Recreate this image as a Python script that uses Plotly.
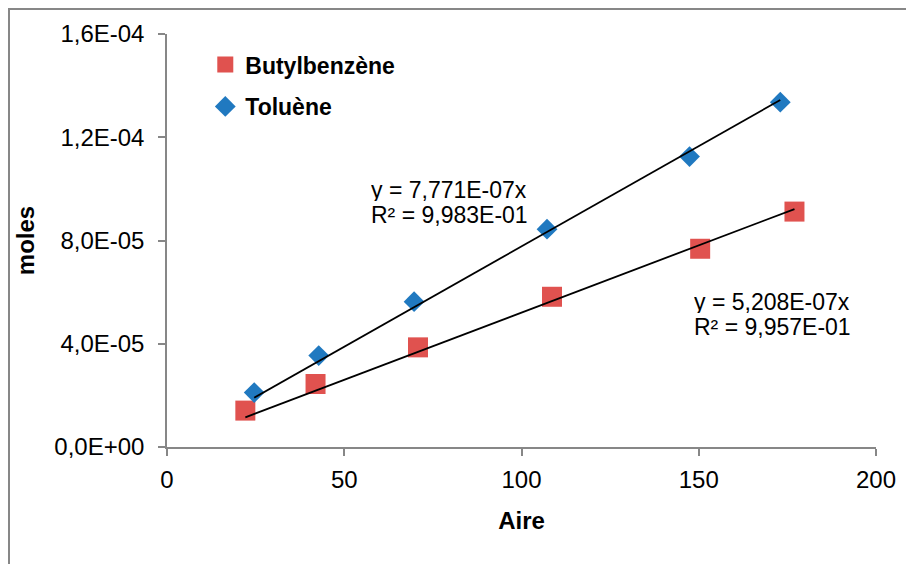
import plotly.graph_objects as go

# ---- data ----
butyl_x = [22.1, 41.9, 70.8, 108.6, 150.4, 177.0]
butyl_y = [1.41e-5, 2.44e-5, 3.86e-5, 5.82e-5, 7.68e-5, 9.12e-5]
toluene_x = [24.6, 42.8, 69.7, 107.2, 147.4, 173.0]
toluene_y = [2.11e-5, 3.54e-5, 5.63e-5, 8.44e-5, 1.125e-4, 1.336e-4]

butyl_slope = 5.208e-07
toluene_slope = 7.771e-07

x_tickvals = [0, 50, 100, 150, 200]
x_ticktext = ["0", "50", "100", "150", "200"]
y_tickvals = [0, 4e-5, 8e-5, 1.2e-4, 1.6e-4]
y_ticktext = ["0,0E+00", "4,0E-05", "8,0E-05", "1,2E-04", "1,6E-04"]

eq_toluene = ["y = 7,771E-07x", "R² = 9,983E-01"]
eq_butyl = ["y = 5,208E-07x", "R² = 9,957E-01"]

FONT = "Liberation Sans, Arial, sans-serif"
RED = "#E0524F"
BLUE = "#2079C0"
GREY = "#878787"

W, H = 898, 556
L, R, T, B = 159, 30, 26, 117

fig = go.Figure()

fig.add_trace(go.Scatter(
    x=butyl_x, y=butyl_y, mode="markers", name="Butylbenzène",
    legendgroup="b",
    marker=dict(symbol="square", size=20, color=RED, line=dict(width=0)),
))
fig.add_trace(go.Scatter(
    x=toluene_x, y=toluene_y, mode="markers", name="Toluène",
    legendgroup="t",
    marker=dict(symbol="diamond", size=16, color=BLUE, line=dict(width=0)),
))

# trendlines (through origin), drawn between first and last x of each series
bx = [min(butyl_x), max(butyl_x)]
tx = [min(toluene_x), max(toluene_x)]
fig.add_trace(go.Scatter(
    x=bx, y=[butyl_slope * v for v in bx], mode="lines", showlegend=False,
    line=dict(color="black", width=1.8), hoverinfo="skip",
))
fig.add_trace(go.Scatter(
    x=tx, y=[toluene_slope * v for v in tx], mode="lines", showlegend=False,
    line=dict(color="black", width=1.8), hoverinfo="skip",
))

annos = []
for txt, yy in zip(eq_toluene, [9.96e-5, 9.0e-5]):
    annos.append(dict(x=57.0, y=yy, xref="x", yref="y", text=txt, showarrow=False,
                      xanchor="left", yanchor="middle", height=22, valign="middle",
                      font=dict(family=FONT, size=23, color="black")))
for txt, yy in zip(eq_butyl, [5.61e-5, 4.64e-5]):
    annos.append(dict(x=148.0, y=yy, xref="x", yref="y", text=txt, showarrow=False,
                      xanchor="left", yanchor="middle", height=22, valign="middle",
                      font=dict(family=FONT, size=23, color="black")))

pw = W - L - R
ph = H - T - B

fig.update_layout(
    width=W, height=H,
    margin=dict(l=L, r=R, t=T, b=B),
    paper_bgcolor="white", plot_bgcolor="white",
    font=dict(family=FONT, size=23, color="black"),
    showlegend=True,
    legend=dict(
        x=0.054, y=0.978, xanchor="left", yanchor="top",
        bgcolor="rgba(0,0,0,0)", borderwidth=0,
        font=dict(family=FONT, size=23, color="black", weight="bold"),
        tracegroupgap=9, traceorder="grouped",
    ),
    xaxis=dict(
        range=[0, 200], tickvals=x_tickvals, ticktext=x_ticktext,
        showgrid=False, zeroline=False, showline=True, linecolor=GREY, linewidth=1.5,
        ticks="outside", ticklen=7, tickcolor=GREY, tickwidth=1.5,
        ticklabelstandoff=3,
        tickfont=dict(family=FONT, size=24, color="black"),
        title=dict(text="Aire", standoff=21,
                   font=dict(family=FONT, size=24, color="black", weight="bold")),
        automargin=False,
    ),
    yaxis=dict(
        range=[0, 1.6e-4], tickvals=y_tickvals, ticktext=y_ticktext,
        showgrid=False, zeroline=False, showline=True, linecolor=GREY, linewidth=1.5,
        ticks="outside", ticklen=7, tickcolor=GREY, tickwidth=1.5,
        ticklabelstandoff=9,
        tickfont=dict(family=FONT, size=24, color="black"),
        title=dict(text="moles", standoff=13,
                   font=dict(family=FONT, size=24, color="black", weight="bold")),
        automargin=False,
    ),
    annotations=annos,
    shapes=[
        dict(type="line", xref="paper", yref="paper",
             x0=-L / pw, x1=1 + R / pw, y0=1 + T / ph, y1=1 + T / ph,
             line=dict(color=GREY, width=4)),
        dict(type="line", xref="paper", yref="paper",
             x0=-L / pw, x1=-L / pw, y0=1 + T / ph, y1=-B / ph,
             line=dict(color=GREY, width=4)),
    ],
)

fig.write_html("out.html")
